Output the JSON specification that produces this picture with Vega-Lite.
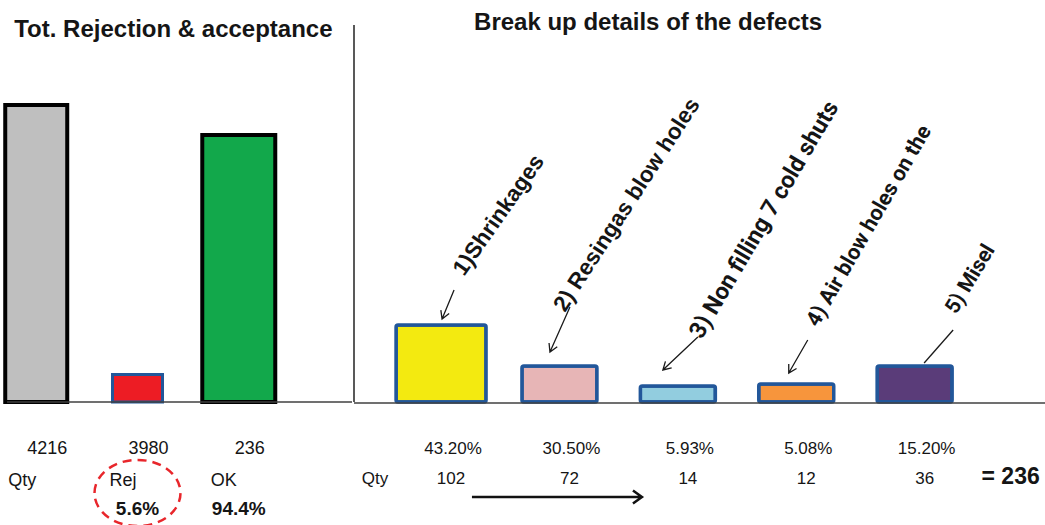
{
  "$schema": "https://vega.github.io/schema/vega-lite/v6.json",
  "padding": 0,
  "spacing": 0,
  "background": "white",
  "config": {"view": {"stroke": null}, "text": {"font": "Liberation Sans", "color": "#151515"}},
  "datasets": {
    "totals": [
      {"item": "Total", "h": 297, "qty": "4216", "lab": "Qty", "pct": ""},
      {"item": "Rejected", "h": 27.5, "qty": "3980", "lab": "Rej", "pct": "5.6%"},
      {"item": "OK", "h": 267, "qty": "236", "lab": "OK", "pct": "94.4%"}
    ],
    "defects": [
      {"defect": "Shrinkages", "label": "1)Shrinkages", "h": 77, "pct": "43.20%", "qty": "102"},
      {"defect": "Resingas blow holes", "label": "2) Resingas blow holes", "h": 36, "pct": "30.50%", "qty": "72"},
      {"defect": "Non filling / cold shuts", "label": "3) Non filling 7 cold shuts", "h": 16, "pct": "5.93%", "qty": "14"},
      {"defect": "Air blow holes", "label": "4) Air blow holes on the", "h": 18, "pct": "5.08%", "qty": "12"},
      {"defect": "Misel", "label": "5) Misel", "h": 36, "pct": "15.20%", "qty": "36"}
    ]
  },
  "hconcat": [
    {
      "width": 352,
      "height": 525,
      "resolve": {"scale": {"x": "independent"}},
      "layer": [
        {
          "data": {"name": "totals"},
          "encoding": {
            "x": {"field": "item", "type": "nominal", "axis": null, "scale": {"domain": ["Total", "Rejected", "OK"], "paddingInner": 0.4, "paddingOuter": 0.438, "align": 0.066}},
            "y": {"field": "h", "type": "quantitative", "axis": null, "scale": {"domain": [-123, 402], "nice": false, "zero": false}}
          },
          "layer": [
            {
              "transform": [{"filter": "datum.item === 'Total'"}],
              "mark": {"type": "bar", "width": 62, "fill": "#bfbfbf", "stroke": "#000000", "strokeWidth": 4}
            },
            {
              "transform": [{"filter": "datum.item === 'Rejected'"}],
              "mark": {"type": "bar", "width": 50, "fill": "#ed1c24", "stroke": "#22579a", "strokeWidth": 3}
            },
            {
              "transform": [{"filter": "datum.item === 'OK'"}],
              "mark": {"type": "bar", "width": 73, "fill": "#12a84b", "stroke": "#000000", "strokeWidth": 4}
            },
            {
              "mark": {"type": "text", "fontSize": 18, "dx": 11},
              "encoding": {"y": {"datum": -46.5}, "text": {"field": "qty"}}
            },
            {
              "mark": {"type": "text", "fontSize": 18, "align": "left", "dx": -28},
              "encoding": {"y": {"datum": -79}, "text": {"field": "lab"}}
            },
            {
              "mark": {"type": "text", "fontSize": 19, "fontWeight": "bold"},
              "encoding": {"y": {"datum": -107}, "text": {"field": "pct"}}
            },
            {
              "transform": [{"filter": "datum.item === 'Rejected'"}],
              "mark": {"type": "point", "shape": "M-1,0A1,0.77 0 1,1 1,0A1,0.77 0 1,1 -1,0Z", "size": 7396, "filled": false, "color": "#e8262b", "strokeWidth": 2.5, "strokeDash": [9, 6], "opacity": 1},
              "encoding": {"y": {"datum": -91}}
            },
            {
              "transform": [{"filter": "datum.item === 'Total'"}],
              "mark": {"type": "text", "text": "Tot. Rejection & acceptance", "fontSize": 24, "fontWeight": "bold", "align": "left", "dx": -22},
              "encoding": {"y": {"datum": 372}}
            }
          ]
        },
        {
          "data": {"values": [{"note": "baseline"}]},
          "mark": {"type": "rule", "color": "#404040", "strokeWidth": 1.5},
          "encoding": {
            "x": {"datum": 0.02, "type": "quantitative", "axis": null, "scale": {"domain": [0, 1]}},
            "x2": {"datum": 1},
            "y": {"datum": 0, "type": "quantitative"}
          }
        }
      ]
    },
    {
      "width": 693,
      "height": 525,
      "resolve": {"scale": {"x": "independent"}},
      "layer": [
        {
          "data": {"name": "defects"},
          "encoding": {
            "x": {"field": "defect", "type": "nominal", "axis": null, "scale": {"domain": ["Shrinkages", "Resingas blow holes", "Non filling / cold shuts", "Air blow holes", "Misel"], "paddingInner": 0.35, "paddingOuter": 0.6016, "align": 0.341}},
            "y": {"field": "h", "type": "quantitative", "axis": null, "scale": {"domain": [-123, 402], "nice": false, "zero": false}}
          },
          "layer": [
            {
              "transform": [{"filter": "datum.defect === 'Shrinkages'"}],
              "mark": {"type": "bar", "width": 90, "fill": "#f3ea10", "stroke": "#22579a", "strokeWidth": 3.5, "cornerRadius": 2}
            },
            {
              "transform": [{"filter": "datum.defect !== 'Shrinkages'"}],
              "mark": {"type": "bar", "width": 75, "stroke": "#22579a", "strokeWidth": 3.5, "cornerRadius": 2},
              "encoding": {
                "fill": {"field": "defect", "type": "nominal", "legend": null, "scale": {"domain": ["Resingas blow holes", "Non filling / cold shuts", "Air blow holes", "Misel"], "range": ["#e7b5b6", "#92cddf", "#f7953c", "#5a3c79"]}}
              }
            },
            {
              "mark": {"type": "point", "size": 40000, "filled": false, "color": "#1a1a1a", "strokeWidth": 1.3, "opacity": 1},
              "encoding": {
                "shape": {"field": "defect", "type": "nominal", "legend": null, "scale": {"domain": ["Shrinkages", "Resingas blow holes", "Non filling / cold shuts", "Air blow holes", "Misel"], "range": [
                  "M0.13,-0.35L0.01,-0.06M0.081,-0.115L0.01,-0.06L-0.002,-0.149",
                  "M0.105,-0.59L-0.095,-0.14M-0.022,-0.193L-0.095,-0.14L-0.104,-0.23",
                  "M0.2,-0.49L-0.15,-0.16M-0.062,-0.181L-0.15,-0.16L-0.124,-0.246",
                  "M0.115,-0.44L-0.075,-0.11M0.003,-0.155L-0.075,-0.11L-0.075,-0.2",
                  "M0.385,-0.36L0.095,-0.03"
                ]}}
              }
            },
            {
              "transform": [{"filter": "datum.defect === 'Shrinkages'"}],
              "mark": {"type": "text", "align": "left", "baseline": "alphabetic", "angle": 305, "dx": 52.5, "dy": -8.8, "fontSize": 22.5, "fontWeight": "bold"},
              "encoding": {"text": {"field": "label"}}
            },
            {
              "transform": [{"filter": "datum.defect === 'Resingas blow holes'"}],
              "mark": {"type": "text", "align": "left", "baseline": "alphabetic", "angle": 303, "dx": 47.5, "dy": -24.3, "fontSize": 22.5, "fontWeight": "bold"},
              "encoding": {"text": {"field": "label"}}
            },
            {
              "transform": [{"filter": "datum.defect === 'Non filling / cold shuts'"}],
              "mark": {"type": "text", "align": "left", "baseline": "alphabetic", "angle": 300.5, "dx": 51.9, "dy": -2.7, "fontSize": 23.5, "fontWeight": "bold", "font": "Roboto"},
              "encoding": {"text": {"field": "label"}}
            },
            {
              "transform": [{"filter": "datum.defect === 'Air blow holes'"}],
              "mark": {"type": "text", "align": "left", "baseline": "alphabetic", "angle": 300, "dx": 59.3, "dy": -9.4, "fontSize": 21.5, "fontWeight": "bold", "font": "Roboto"},
              "encoding": {"text": {"field": "label"}}
            },
            {
              "transform": [{"filter": "datum.defect === 'Misel'"}],
              "mark": {"type": "text", "align": "left", "baseline": "alphabetic", "angle": 301, "dx": 65.1, "dy": 9.3, "fontSize": 21, "fontWeight": "bold", "font": "Roboto"},
              "encoding": {"text": {"field": "label"}}
            },
            {
              "mark": {"type": "text", "fontSize": 17, "dx": 12},
              "encoding": {"y": {"datum": -47}, "text": {"field": "pct"}}
            },
            {
              "mark": {"type": "text", "fontSize": 17, "dx": 10},
              "encoding": {"y": {"datum": -77}, "text": {"field": "qty"}}
            },
            {
              "transform": [{"filter": "datum.defect === 'Shrinkages'"}],
              "mark": {"type": "text", "text": "Qty", "fontSize": 17, "dx": -66},
              "encoding": {"y": {"datum": -77}}
            },
            {
              "transform": [{"filter": "datum.defect === 'Misel'"}],
              "mark": {"type": "text", "text": "= 236", "fontSize": 23, "fontWeight": "bold", "dx": 96},
              "encoding": {"y": {"datum": -75}}
            },
            {
              "transform": [{"filter": "datum.defect === 'Shrinkages'"}],
              "mark": {"type": "text", "text": "Break up details of the defects", "fontSize": 24, "fontWeight": "bold", "align": "left", "dx": 33},
              "encoding": {"y": {"datum": 379}}
            },
            {
              "transform": [{"filter": "datum.defect === 'Resingas blow holes'"}],
              "mark": {"type": "point", "shape": "M-0.875,0L0.825,0M0.735,-0.065L0.825,0L0.735,0.065", "size": 40000, "filled": false, "color": "#111111", "strokeWidth": 2.5, "opacity": 1},
              "encoding": {"y": {"datum": -95}}
            }
          ]
        },
        {
          "data": {"values": [{"note": "baseline"}]},
          "mark": {"type": "rule", "color": "#404040", "strokeWidth": 1.5},
          "encoding": {"y": {"datum": -1, "type": "quantitative"}}
        },
        {
          "data": {"values": [{"note": "divider"}]},
          "mark": {"type": "rule", "color": "#222222", "strokeWidth": 1.5},
          "encoding": {
            "x": {"datum": 0, "type": "quantitative", "axis": null, "scale": {"domain": [0, 1]}},
            "y": {"datum": 0, "type": "quantitative"},
            "y2": {"datum": 377}
          }
        }
      ]
    }
  ]
}
